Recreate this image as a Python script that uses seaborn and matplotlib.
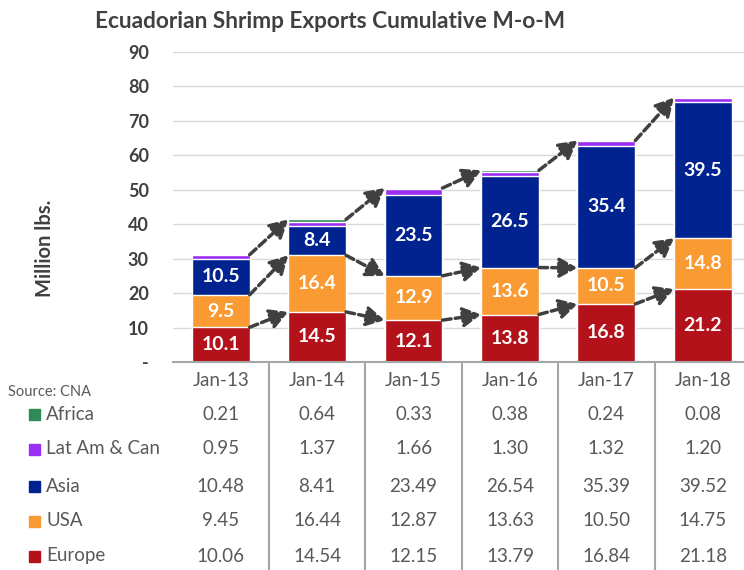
import numpy as np
import pandas as pd
import matplotlib
matplotlib.use("Agg")
import matplotlib.pyplot as plt
import seaborn as sns
from matplotlib.patches import Rectangle
from matplotlib.lines import Line2D

months = ["Jan-13", "Jan-14", "Jan-15", "Jan-16", "Jan-17", "Jan-18"]
europe = [10.06, 14.54, 12.149, 13.79, 16.84, 21.18]
usa = [9.451, 16.44, 12.87, 13.63, 10.50, 14.75]
asia = [10.48, 8.41, 23.49, 26.54, 35.39, 39.52]
latam = [0.95, 1.37, 1.66, 1.30, 1.32, 1.20]
africa = [0.21, 0.64, 0.33, 0.38, 0.24, 0.08]

series_names = ["Africa", "Lat Am & Can", "Asia", "USA", "Europe"]
colors = {"Europe": "#B3121B", "USA": "#F99A33", "Asia": "#00238F",
          "Lat Am & Can": "#9A2EF2", "Africa": "#2E8B57"}

sns.set_theme(style="white")
plt.rcParams["font.family"] = ["Lato", "DejaVu Sans"]

W, H = 744, 570
fig = plt.figure(figsize=(W / 100, H / 100), dpi=100)
left_px, right_px, top_px, bot_px = 172.5, 751, 52, 362
ax = fig.add_axes([left_px / W, 1 - bot_px / H, (right_px - left_px) / W, (bot_px - top_px) / H])

data = pd.DataFrame({"month": months, "Europe": europe, "USA": usa, "Asia": asia,
                     "Lat Am & Can": latam, "Africa": africa})
stack_order = ["Europe", "USA", "Asia", "Lat Am & Can", "Africa"]
cum = data[stack_order].cumsum(axis=1)

# draw from tallest cumulative to shortest so each layer shows its own segment
for name in reversed(stack_order):
    sns.barplot(x=data["month"], y=cum[name], color=colors[name], width=0.6,
                saturation=1, ax=ax, zorder=2)

ax.set_xlim(-0.5, 5.5)
ax.set_ylim(0, 90)
ax.set_yticks(range(0, 91, 10))
ax.set_yticklabels(["-"] + [str(v) for v in range(10, 91, 10)],
                   fontsize=13, fontweight="bold", color="#404040")
ax.tick_params(axis="y", length=0, pad=17)
ax.set_xticks([])
ax.set_xlabel("")
ax.set_ylabel("")
ax.yaxis.grid(True, color="#d9d9d9", lw=1)
ax.set_axisbelow(True)
for s in ["top", "right", "left"]:
    ax.spines[s].set_visible(False)
ax.spines["bottom"].set_color("#a6a6a6")
ax.spines["bottom"].set_linewidth(1.5)

# segment labels
for name in ["Europe", "USA", "Asia"]:
    for i, m in enumerate(months):
        v = data[name][i]
        mid = cum[name][i] - v / 2
        ax.text(i, mid, f"{v:.1f}", ha="center", va="center", color="white",
                fontsize=14, fontweight="bold", zorder=5)

# dashed arrows between bars
levels = [cum["Europe"], cum["USA"], cum["Africa"]]
for lev in levels:
    for i in range(5):
        ax.annotate("", xy=(i + 1 - 0.3, lev[i + 1]), xytext=(i + 0.3, lev[i]),
                    arrowprops=dict(arrowstyle="-|>,head_length=0.9,head_width=0.5",
                                    linestyle=(0, (2.5, 1.2)), lw=2.5, color="#404040",
                                    shrinkA=0, shrinkB=0), zorder=6)

# title and axis label
fig.text(95 / W, 1 - 22 / H, "Ecuadorian Shrimp Exports Cumulative M-o-M",
         fontsize=16.3, fontweight="bold", color="#404040", ha="left", va="center")
fig.text(45 / W, 1 - 248 / H, "Million lbs.", rotation=90, fontsize=14.5,
         fontweight="bold", color="#404040", ha="center", va="center")
fig.text(8 / W, 1 - 392 / H, "Source: CNA", fontsize=10.5, color="#595959",
         ha="left", va="center")


def fy(ypix):
    return 1 - ypix / H


def colx(i):
    return (left_px + (i + 0.5) * (right_px - left_px) / 6) / W


for i, m in enumerate(months):
    fig.text(colx(i), fy(380), m, ha="center", va="center", fontsize=13.5, color="#595959")

row_y = {"Africa": 414, "Lat Am & Can": 449, "Asia": 486, "USA": 521, "Europe": 556}
for name in series_names:
    y = fy(row_y[name])
    fig.patches.append(Rectangle((29 / W, y - 5.5 / H), 11 / W, 11 / H,
                                 transform=fig.transFigure, color=colors[name]))
    fig.text(46 / W, y, name, ha="left", va="center", fontsize=13.5, color="#595959")
    for i, v in enumerate(data[name]):
        fig.text(colx(i), y, f"{v:.2f}", ha="center", va="center", fontsize=13.5,
                 color="#595959")

for k in range(1, 6):
    xb = (left_px + k * (right_px - left_px) / 6) / W
    fig.lines.append(Line2D([xb, xb], [fy(bot_px), 0], transform=fig.transFigure,
                            color="#a6a6a6", lw=1.5))

fig.savefig("out.png", dpi=100)
